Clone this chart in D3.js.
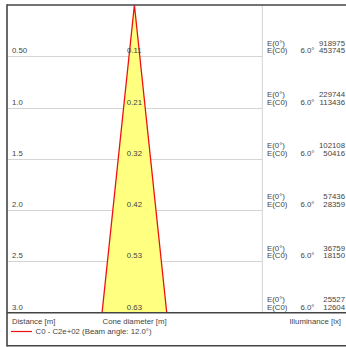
<!DOCTYPE html>
<html>
<head>
<meta charset="utf-8">
<script src="https://cdn.jsdelivr.net/npm/d3@7"></script>
<style>
    body { margin: 0; background: #fff; }
    svg { display: block; font-family: "Liberation Sans", Arial, sans-serif; }
</style>
</head>
<body>
<div id="chart"></div>
<script>
// values
const distances = [0.5, 1.0, 1.5, 2.0, 2.5, 3.0];
const distanceLabels = ['0.50', '1.0', '1.5', '2.0', '2.5', '3.0'];
const coneDiameters = ['0.11', '0.21', '0.32', '0.42', '0.53', '0.63'];
const e0 = [918975, 229744, 102108, 57436, 36759, 25527];
const eC0 = [453745, 113436, 50416, 28359, 18150, 12604];
const halfAngle = 6.0;
const beamAngle = 12.0;
const legendLabel = 'C0 - C2e+02 (Beam angle: 12.0°)';

const width = 346;
const height = 347;
const frameLeft = 7;
const frameTop = 5;
const plotBottom = 312.7;
const divider = 262.3;
const textColor = '#444';

const svg = d3.select('#chart')
    .append('svg')
    .attr('width', width)
    .attr('height', height);

const y = d3.scaleLinear()
    .domain([0, 3])
    .range([frameTop, plotBottom]);

// same metres-per-pixel as y, centred on the cone axis
const pxPerM = (plotBottom - frameTop) / 3;
const cx = 134.4;
const x = d3.scaleLinear()
    .domain([-1, 1])
    .range([cx - pxPerM, cx + pxPerM]);

// grid lines
svg.append('g')
    .selectAll('line')
    .data(distances.slice(0, -1))
    .join('line')
    .attr('x1', frameLeft)
    .attr('x2', divider)
    .attr('y1', d => Math.round(y(d)) + 0.5)
    .attr('y2', d => Math.round(y(d)) + 0.5)
    .attr('stroke', '#d4d4d4')
    .attr('stroke-width', 1);

svg.append('line')
    .attr('x1', divider).attr('x2', divider)
    .attr('y1', frameTop).attr('y2', plotBottom)
    .attr('stroke', '#d4d4d4');

// cone
const maxD = d3.max(distances);
const maxHalf = maxD * Math.tan(halfAngle * Math.PI / 180);
const cone = [[0, 0], [-maxHalf, maxD], [maxHalf, maxD]];
svg.append('path')
    .attr('d', d3.line().x(d => x(d[0])).y(d => y(d[1]))(cone) + 'Z')
    .attr('fill', '#ffff80')
    .attr('stroke', 'none');

svg.append('path')
    .attr('d', d3.line().x(d => x(d[0])).y(d => y(d[1]))([cone[1], cone[0], cone[2]]))
    .attr('fill', 'none')
    .attr('stroke', '#ee1111')
    .attr('stroke-width', 1.3);

// labels
const labels = svg.append('g')
    .attr('font-size', '7.8px')
    .attr('fill', textColor);

labels.selectAll('.dist')
    .data(distances)
    .join('text')
    .attr('class', 'dist')
    .attr('x', 12)
    .attr('y', d => y(d) - 3)
    .text((d, i) => distanceLabels[i]);

labels.selectAll('.cone')
    .data(distances)
    .join('text')
    .attr('class', 'cone')
    .attr('x', cx)
    .attr('y', d => y(d) - 3)
    .attr('text-anchor', 'middle')
    .text((d, i) => coneDiameters[i]);

const rows = labels.selectAll('.row')
    .data(distances)
    .join('g')
    .attr('class', 'row')
    .attr('transform', d => `translate(0, ${y(d) - 3})`);

rows.append('text').attr('x', 267).attr('y', -7.7).text('E(0°)');
rows.append('text').attr('x', 345).attr('y', -7.7).attr('text-anchor', 'end').text((d, i) => e0[i]);
rows.append('text').attr('x', 267).attr('y', 0).text('E(C0)');
rows.append('text').attr('x', 300.5).attr('y', 0).text(halfAngle.toFixed(1) + '°');
rows.append('text').attr('x', 345).attr('y', 0).attr('text-anchor', 'end').text((d, i) => eC0[i]);

// footer
labels.append('text').attr('x', 12).attr('y', 324).text('Distance [m]');
labels.append('text').attr('x', 102.5).attr('y', 324).text('Cone diameter [m]');
labels.append('text').attr('x', 341).attr('y', 324).attr('text-anchor', 'end').text('Illuminance [lx]');

svg.append('line')
    .attr('x1', 11).attr('x2', 32)
    .attr('y1', 331.5).attr('y2', 331.5)
    .attr('stroke', '#ee1111')
    .attr('stroke-width', 1.2);
labels.append('text').attr('x', 35.5).attr('y', 334.2).text(legendLabel);

// frame
const frame = svg.append('g')
    .attr('stroke', '#444')
    .attr('stroke-width', 1.6);
frame.append('line').attr('x1', frameLeft).attr('x2', width).attr('y1', frameTop).attr('y2', frameTop);
frame.append('line').attr('x1', frameLeft).attr('x2', width).attr('y1', plotBottom).attr('y2', plotBottom);
frame.append('line').attr('x1', frameLeft).attr('x2', width).attr('y1', 345.8).attr('y2', 345.8);
frame.append('line').attr('x1', frameLeft).attr('x2', frameLeft).attr('y1', frameTop - 0.8).attr('y2', 346.6);
</script>
</body>
</html>
